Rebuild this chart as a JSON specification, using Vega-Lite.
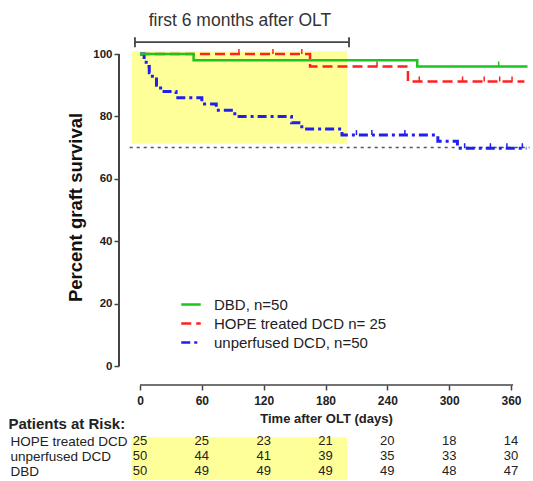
{
  "$schema": "https://vega.github.io/schema/vega-lite/v6.json",
  "width": 414,
  "height": 481,
  "autosize": "none",
  "padding": {"left": 119, "top": 0, "right": 0, "bottom": 0},
  "background": "white",
  "config": {"font": "Liberation Sans", "view": {"stroke": null}, "axis": {"grid": false}},
  "datasets": {
    "one": [{}],
    "km": [
      {"series": "DBD, n=50", "day": 0, "v": 100},
      {"series": "DBD, n=50", "day": 52, "v": 98},
      {"series": "DBD, n=50", "day": 269, "v": 96},
      {"series": "DBD, n=50", "day": 376, "v": 96},
      {"series": "HOPE treated DCD n= 25", "day": 0, "v": 100},
      {"series": "HOPE treated DCD n= 25", "day": 165, "v": 96},
      {"series": "HOPE treated DCD n= 25", "day": 260, "v": 91.2},
      {"series": "HOPE treated DCD n= 25", "day": 373, "v": 91.2},
      {"series": "unperfused DCD, n=50", "day": 0, "v": 100},
      {"series": "unperfused DCD, n=50", "day": 4, "v": 98},
      {"series": "unperfused DCD, n=50", "day": 6, "v": 96},
      {"series": "unperfused DCD, n=50", "day": 9, "v": 94},
      {"series": "unperfused DCD, n=50", "day": 12, "v": 92},
      {"series": "unperfused DCD, n=50", "day": 16, "v": 90},
      {"series": "unperfused DCD, n=50", "day": 20, "v": 88},
      {"series": "unperfused DCD, n=50", "day": 35, "v": 86},
      {"series": "unperfused DCD, n=50", "day": 60, "v": 84},
      {"series": "unperfused DCD, n=50", "day": 74, "v": 82},
      {"series": "unperfused DCD, n=50", "day": 92, "v": 80},
      {"series": "unperfused DCD, n=50", "day": 147, "v": 78},
      {"series": "unperfused DCD, n=50", "day": 157, "v": 76},
      {"series": "unperfused DCD, n=50", "day": 196, "v": 74},
      {"series": "unperfused DCD, n=50", "day": 289, "v": 72},
      {"series": "unperfused DCD, n=50", "day": 308, "v": 69.8},
      {"series": "unperfused DCD, n=50", "day": 375, "v": 69.8}
    ],
    "censor": [
      {"series": "DBD, n=50", "day": 348, "v": 96},
      {"series": "HOPE treated DCD n= 25", "day": 96, "v": 100},
      {"series": "HOPE treated DCD n= 25", "day": 129, "v": 100},
      {"series": "HOPE treated DCD n= 25", "day": 157, "v": 100},
      {"series": "HOPE treated DCD n= 25", "day": 230, "v": 96},
      {"series": "HOPE treated DCD n= 25", "day": 271, "v": 91.2},
      {"series": "HOPE treated DCD n= 25", "day": 313, "v": 91.2},
      {"series": "HOPE treated DCD n= 25", "day": 334, "v": 91.2},
      {"series": "HOPE treated DCD n= 25", "day": 349, "v": 91.2},
      {"series": "HOPE treated DCD n= 25", "day": 361, "v": 91.2},
      {"series": "unperfused DCD, n=50", "day": 210, "v": 74},
      {"series": "unperfused DCD, n=50", "day": 225, "v": 74},
      {"series": "unperfused DCD, n=50", "day": 257, "v": 74},
      {"series": "unperfused DCD, n=50", "day": 315, "v": 69.8},
      {"series": "unperfused DCD, n=50", "day": 340, "v": 69.8},
      {"series": "unperfused DCD, n=50", "day": 356, "v": 69.8},
      {"series": "unperfused DCD, n=50", "day": 371, "v": 69.8}
    ],
    "risk": [
      {"group": "HOPE treated DCD", "day": 0, "n": 25},
      {"group": "HOPE treated DCD", "day": 60, "n": 25},
      {"group": "HOPE treated DCD", "day": 120, "n": 23},
      {"group": "HOPE treated DCD", "day": 180, "n": 21},
      {"group": "HOPE treated DCD", "day": 240, "n": 20},
      {"group": "HOPE treated DCD", "day": 300, "n": 18},
      {"group": "HOPE treated DCD", "day": 360, "n": 14},
      {"group": "unperfused DCD", "day": 0, "n": 50},
      {"group": "unperfused DCD", "day": 60, "n": 44},
      {"group": "unperfused DCD", "day": 120, "n": 41},
      {"group": "unperfused DCD", "day": 180, "n": 39},
      {"group": "unperfused DCD", "day": 240, "n": 35},
      {"group": "unperfused DCD", "day": 300, "n": 33},
      {"group": "unperfused DCD", "day": 360, "n": 30},
      {"group": "DBD", "day": 0, "n": 50},
      {"group": "DBD", "day": 60, "n": 49},
      {"group": "DBD", "day": 120, "n": 49},
      {"group": "DBD", "day": 180, "n": 49},
      {"group": "DBD", "day": 240, "n": 49},
      {"group": "DBD", "day": 300, "n": 48},
      {"group": "DBD", "day": 360, "n": 47}
    ]
  },
  "layer": [
    {
      "layer": [
        {
          "data": {"name": "one"},
          "mark": {"type": "rect", "color": "#ffff99"},
          "encoding": {
            "x": {"datum": -8, "type": "quantitative"},
            "x2": {"datum": 201},
            "y": {"datum": 71.2, "type": "quantitative"},
            "y2": {"datum": 100.9}
          }
        },
        {
          "data": {"name": "one"},
          "mark": {"type": "rect", "color": "#ffff99"},
          "encoding": {
            "x": {"datum": -8, "type": "quantitative"},
            "x2": {"datum": 201},
            "y": {"datum": -22.8, "type": "quantitative"},
            "y2": {"datum": -36.5}
          }
        },
        {
          "data": {"name": "one"},
          "mark": {"type": "rule", "color": "#444444", "strokeWidth": 1.8},
          "encoding": {
            "x": {"datum": -4.9, "type": "quantitative"},
            "x2": {"datum": 202.8},
            "y": {"datum": 103.8, "type": "quantitative"}
          }
        },
        {
          "data": {"name": "one"},
          "mark": {"type": "rule", "color": "#444444", "strokeWidth": 1.8},
          "encoding": {
            "x": {"datum": -4.9, "type": "quantitative"},
            "y": {"datum": 102.2, "type": "quantitative"},
            "y2": {"datum": 105.4}
          }
        },
        {
          "data": {"name": "one"},
          "mark": {"type": "rule", "color": "#444444", "strokeWidth": 1.8},
          "encoding": {
            "x": {"datum": 202.8, "type": "quantitative"},
            "y": {"datum": 102.2, "type": "quantitative"},
            "y2": {"datum": 105.4}
          }
        },
        {
          "data": {"name": "one"},
          "mark": {"type": "text", "text": "first 6 months after OLT", "fontSize": 17.5, "color": "#333333", "baseline": "middle", "align": "center"},
          "encoding": {
            "x": {"datum": 97, "type": "quantitative"},
            "y": {"datum": 110.6, "type": "quantitative"}
          }
        },
        {
          "data": {"name": "one"},
          "mark": {"type": "rule", "color": "#555555", "strokeWidth": 1.5, "strokeDash": [3, 4]},
          "encoding": {
            "x": {"datum": -10, "type": "quantitative"},
            "x2": {"datum": 378},
            "y": {"datum": 70, "type": "quantitative"}
          }
        },
        {
          "data": {"name": "one"},
          "mark": {"type": "rule", "color": "#444444", "strokeWidth": 2},
          "encoding": {
            "x": {"datum": -20.377, "type": "quantitative"},
            "y": {"datum": 0, "type": "quantitative"},
            "y2": {"datum": 100}
          }
        },
        {
          "data": {"name": "one"},
          "mark": {"type": "rule", "color": "#444444", "strokeWidth": 1.5},
          "encoding": {
            "x": {"datum": 0, "type": "quantitative"},
            "x2": {"datum": 362},
            "y": {"datum": -6.09, "type": "quantitative"}
          }
        },
        {
          "data": {"name": "km"},
          "transform": [{"filter": "datum.series == 'HOPE treated DCD n= 25'"}],
          "mark": {"type": "line", "interpolate": "step-after", "strokeWidth": 2.5},
          "encoding": {
            "x": {
              "field": "day", "type": "quantitative", "title": "Time after OLT (days)",
              "scale": {"domain": [-20.377, 381.33], "nice": false, "zero": false},
              "axis": {
                "values": [0, 60, 120, 180, 240, 300, 360], "offset": -96, "domain": false,
                "tickSize": 5, "tickWidth": 1.5, "tickColor": "#444444",
                "labelFontSize": 12, "labelFontWeight": "bold", "labelColor": "#222222", "labelPadding": 5, "labelFlush": false,
                "titleFontSize": 13, "titleFontWeight": "bold", "titleColor": "#222222", "titlePadding": 6
              }
            },
            "y": {
              "field": "v", "type": "quantitative", "title": "Percent graft survival",
              "scale": {"domain": [-36.859, 117.308], "nice": false, "zero": false},
              "axis": {
                "values": [0, 20, 40, 60, 80, 100], "domain": false,
                "tickSize": 5, "tickWidth": 1.5, "tickColor": "#444444",
                "labelFontSize": 11.5, "labelFontWeight": "bold", "labelColor": "#222222", "labelPadding": 2,
                "titleFontSize": 18.5, "titleFontWeight": "bold", "titleColor": "#111111",
                "titleX": -44, "titleY": 207, "titleBaseline": "middle", "titleAlign": "center", "titleAngle": -90
              }
            },
            "color": {
              "field": "series", "type": "nominal",
              "scale": {"domain": ["DBD, n=50", "HOPE treated DCD n= 25", "unperfused DCD, n=50"], "range": ["#1dc41d", "#ff2020", "#2020ee"]},
              "legend": {
                "orient": "none", "legendX": 61, "legendY": 293.5, "title": null, "padding": 0,
                "symbolType": "stroke", "symbolSize": 380, "symbolStrokeWidth": 2.5, "labelLimit": 400,
                "labelFontSize": 15, "labelOffset": 12, "labelColor": "#222222", "rowPadding": 0
              }
            },
            "strokeDash": {
              "field": "series", "type": "nominal",
              "scale": {"domain": ["DBD, n=50", "HOPE treated DCD n= 25", "unperfused DCD, n=50"], "range": [[1, 0], [10, 5], [9, 4, 3, 4]]},
              "legend": {
                "orient": "none", "legendX": 61, "legendY": 293.5, "title": null, "padding": 0,
                "symbolType": "stroke", "symbolSize": 380, "symbolStrokeWidth": 2.5, "labelLimit": 400,
                "labelFontSize": 15, "labelOffset": 12, "labelColor": "#222222", "rowPadding": 0
              }
            }
          }
        },
        {
          "data": {"name": "km"},
          "transform": [{"filter": "datum.series == 'unperfused DCD, n=50'"}],
          "mark": {"type": "line", "interpolate": "step-after", "strokeWidth": 3},
          "encoding": {
            "x": {"field": "day", "type": "quantitative", "title": "Time after OLT (days)"},
            "y": {"field": "v", "type": "quantitative", "title": "Percent graft survival"},
            "color": {"field": "series", "type": "nominal"},
            "strokeDash": {"field": "series", "type": "nominal"}
          }
        },
        {
          "data": {"name": "km"},
          "transform": [{"filter": "datum.series == 'DBD, n=50'"}],
          "mark": {"type": "line", "interpolate": "step-after", "strokeWidth": 2.5},
          "encoding": {
            "x": {"field": "day", "type": "quantitative", "title": "Time after OLT (days)"},
            "y": {"field": "v", "type": "quantitative", "title": "Percent graft survival"},
            "color": {"field": "series", "type": "nominal"},
            "strokeDash": {"field": "series", "type": "nominal"}
          }
        },
        {
          "data": {"name": "censor"},
          "mark": {"type": "rule", "strokeWidth": 1.5, "y2Offset": -5},
          "encoding": {
            "x": {"field": "day", "type": "quantitative", "title": "Time after OLT (days)"},
            "y": {"field": "v", "type": "quantitative", "title": "Percent graft survival"},
            "y2": {"field": "v"},
            "color": {"field": "series", "type": "nominal", "legend": null}
          }
        }
      ]
    },
    {
      "data": {"name": "risk"},
      "mark": {"type": "text", "fontSize": 13, "color": "#222222", "baseline": "middle"},
      "encoding": {
        "x": {"field": "day", "type": "quantitative", "title": "Time after OLT (days)"},
        "y": {
          "field": "group", "type": "nominal",
          "scale": {"type": "point", "domain": ["HOPE treated DCD", "unperfused DCD", "DBD"], "range": [441, 471], "padding": 0},
          "axis": {
            "orient": "left", "domain": false, "ticks": false, "tickSize": 0,
            "labelAlign": "left", "labelBaseline": "middle", "labelPadding": 109, "labelFontSize": 13.5, "labelColor": "#222222",
            "title": "Patients at Risk:", "titleAngle": 0, "titleAlign": "left", "titleBaseline": "middle",
            "titleX": -111, "titleY": 423, "titleFontSize": 15, "titleFontWeight": "bold", "titleColor": "#222222"
          }
        },
        "text": {"field": "n", "type": "quantitative"}
      }
    }
  ],
  "resolve": {"scale": {"y": "independent"}, "axis": {"y": "independent"}}
}
